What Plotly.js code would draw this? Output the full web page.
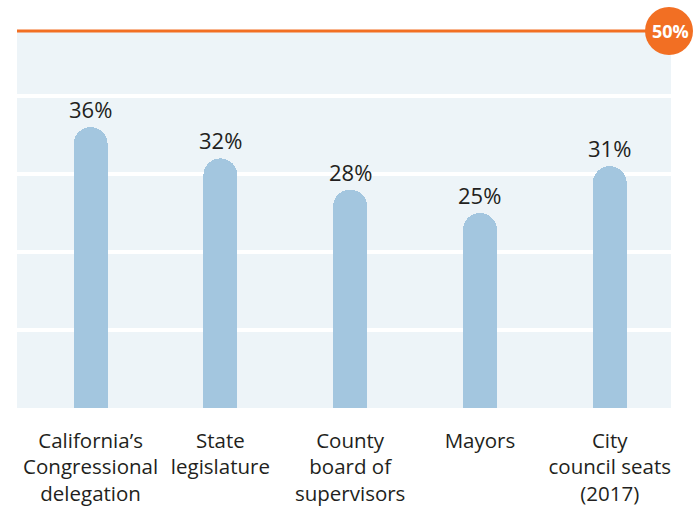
<!DOCTYPE html>
<html>
<head>
<meta charset="utf-8">
<script src="https://cdn.plot.ly/plotly-3.0.1.min.js"></script>
<style>html,body{margin:0;padding:0;background:#fff;}#chart{width:694px;height:506px;}</style>
</head>
<body>
<div id="chart"></div>
<script>
const categories = [
  "California’s<br>Congressional<br>delegation",
  "State<br>legislature",
  "County<br>board of<br>supervisors",
  "Mayors",
  "City<br>council seats<br>(2017)"
];
const values = [36, 32, 28, 25, 31];
const valueLabels = ["36%", "32%", "28%", "25%", "31%"];
const parityValue = 50;
const parityLabel = "50%";

const FONT = "'Open Sans', Lato, sans-serif";
const ORANGE = "#f26f23";

const trace = {
  type: "bar",
  x: categories,
  y: values,
  width: 0.262,
  marker: { color: "#a3c6df", cornerradius: "50%", line: { width: 0 } },
  hoverinfo: "none"
};

const annotations = categories.map((c, i) => ({
  x: c, y: values[i], xref: "x", yref: "y",
  text: valueLabels[i], showarrow: false,
  yanchor: "bottom", yshift: 1,
  font: { family: FONT, size: 22, color: "#231f20" }
}));
annotations.push({
  x: 1, y: 1, xref: "paper", yref: "paper",
  xshift: -1, yshift: 0,
  text: "<b>" + parityLabel + "</b>", showarrow: false,
  xanchor: "center", yanchor: "middle",
  font: { family: FONT, size: 18, color: "#ffffff" }
});

const layout = {
  width: 694, height: 506,
  margin: { l: 17, r: 23, t: 31, b: 98 },
  paper_bgcolor: "#ffffff",
  plot_bgcolor: "#edf4f8",
  showlegend: false,
  bargap: 0,
  xaxis: {
    type: "category",
    range: [-0.567, 4.472],
    showgrid: false, zeroline: false, showline: false, ticks: "",
    ticklabelstandoff: 18,
    tickfont: { family: FONT, size: 20.5, color: "#231f20" },
    fixedrange: true
  },
  yaxis: {
    range: [0, 48.33],
    dtick: 10, tick0: 0,
    showgrid: true, gridcolor: "#ffffff", gridwidth: 3.5,
    zeroline: false, showline: false, showticklabels: false, ticks: "",
    fixedrange: true
  },
  shapes: [
    {
      type: "line", xref: "paper", yref: "paper",
      x0: 0, x1: 1, y0: 1, y1: 1,
      line: { color: ORANGE, width: 3 }
    },
    {
      type: "circle", xref: "paper", yref: "paper",
      xsizemode: "pixel", ysizemode: "pixel",
      xanchor: 1, yanchor: 1,
      x0: -26, x1: 22, y0: -24, y1: 24,
      fillcolor: ORANGE, line: { width: 0 }
    }
  ],
  annotations: annotations
};

Plotly.newPlot("chart", [trace], layout, { displayModeBar: false, staticPlot: true });
</script>
</body>
</html>
